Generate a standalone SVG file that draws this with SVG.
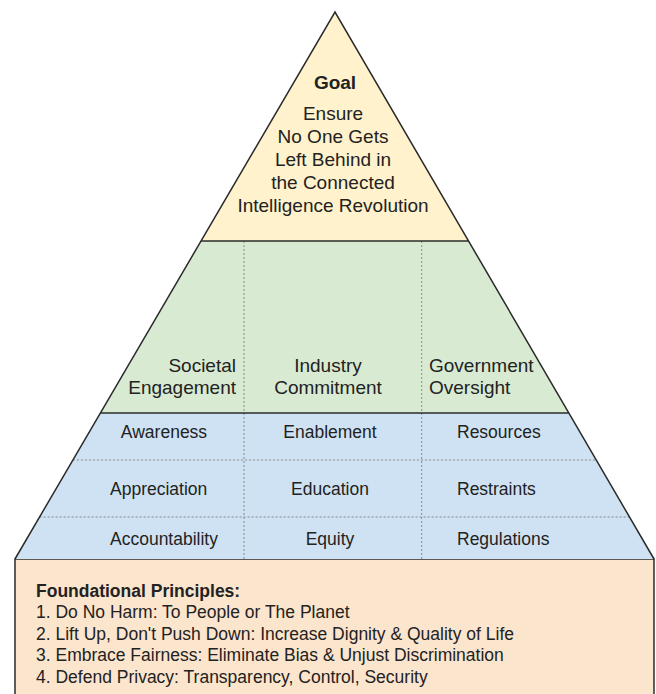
<svg xmlns="http://www.w3.org/2000/svg" width="656" height="694" viewBox="0 0 656 694">
  <style>
    .t { font-family: "Liberation Sans", Arial, sans-serif; fill: #222; }
    .goal { font-size: 19px; text-anchor: middle; }
    .pillar { font-size: 19px; }
    .cell { font-size: 17.5px; }
    .found { font-size: 17.5px; }
    .edge { stroke: #2b2b2b; stroke-width: 1.5; fill: none; stroke-linejoin: miter; }
    .dots { stroke: #8a8a8a; stroke-width: 1; stroke-dasharray: 2 2; fill: none; }
  </style>

  <rect width="656" height="694" fill="#ffffff"/>

  <!-- foundation slab under the pyramid -->
  <g id="foundation">
    <rect x="15" y="559" width="639" height="140" fill="#fce5cd" stroke="#2b2b2b" stroke-width="1.5"/>
    <text class="t found" x="36" y="597" font-weight="bold">Foundational Principles:</text>
    <text class="t found" x="36" y="618">1. Do No Harm: To People or The Planet</text>
    <text class="t found" x="36" y="640">2. Lift Up, Don't Push Down: Increase Dignity &amp; Quality of Life</text>
    <text class="t found" x="36" y="661">3. Embrace Fairness: Eliminate Bias &amp; Unjust Discrimination</text>
    <text class="t found" x="36" y="683">4. Defend Privacy: Transparency, Control, Security</text>
  </g>

  <!-- pyramid tiers -->
  <g id="goal">
    <polygon points="335,12 468.6,241 201,241" fill="#fff2cc"/>
    <text class="t goal" x="335" y="89" font-weight="bold">Goal</text>
    <text class="t goal" x="333" y="120">Ensure</text>
    <text class="t goal" x="333" y="143">No One Gets</text>
    <text class="t goal" x="333" y="166">Left Behind in</text>
    <text class="t goal" x="333" y="189">the Connected</text>
    <text class="t goal" x="333" y="212">Intelligence Revolution</text>
  </g>

  <g id="pillars">
    <polygon points="201,241 468.6,241 568.9,413 100.4,413" fill="#d9ead3"/>
  </g>
  <g id="societal-engagement">
    <text class="t pillar" x="236" y="372" text-anchor="end">Societal</text>
    <text class="t pillar" x="236" y="394" text-anchor="end">Engagement</text>
  </g>
  <g id="industry-commitment">
    <text class="t pillar" x="328" y="372" text-anchor="middle">Industry</text>
    <text class="t pillar" x="328" y="394" text-anchor="middle">Commitment</text>
  </g>
  <g id="government-oversight">
    <text class="t pillar" x="429" y="372">Government</text>
    <text class="t pillar" x="429" y="394">Oversight</text>
  </g>

  <g id="actions">
    <polygon points="100.4,413 568.9,413 654,559 15,559" fill="#cfe2f3"/>
  </g>
  <g id="row-1">
    <text class="t cell" x="164" y="438" text-anchor="middle">Awareness</text>
    <text class="t cell" x="330" y="438" text-anchor="middle">Enablement</text>
    <text class="t cell" x="457" y="438">Resources</text>
  </g>
  <g id="row-2">
    <text class="t cell" x="110" y="495">Appreciation</text>
    <text class="t cell" x="330" y="495" text-anchor="middle">Education</text>
    <text class="t cell" x="457" y="495">Restraints</text>
  </g>
  <g id="row-3">
    <text class="t cell" x="110" y="545">Accountability</text>
    <text class="t cell" x="330" y="545" text-anchor="middle">Equity</text>
    <text class="t cell" x="457" y="545">Regulations</text>
  </g>

  <!-- dividers and outline -->
  <g id="connectors">
    <line class="dots" x1="244" y1="241" x2="244" y2="559"/>
    <line class="dots" x1="421.7" y1="241" x2="421.7" y2="559"/>
    <line class="dots" x1="72.9" y1="460" x2="596.3" y2="460"/>
    <line class="dots" x1="39.6" y1="517" x2="629.5" y2="517"/>
    <line class="edge" x1="201" y1="241" x2="468.6" y2="241"/>
    <line class="edge" x1="100.4" y1="413" x2="568.9" y2="413"/>
    <polyline class="edge" points="15,559 335,12 654,559"/>
  </g>
</svg>
